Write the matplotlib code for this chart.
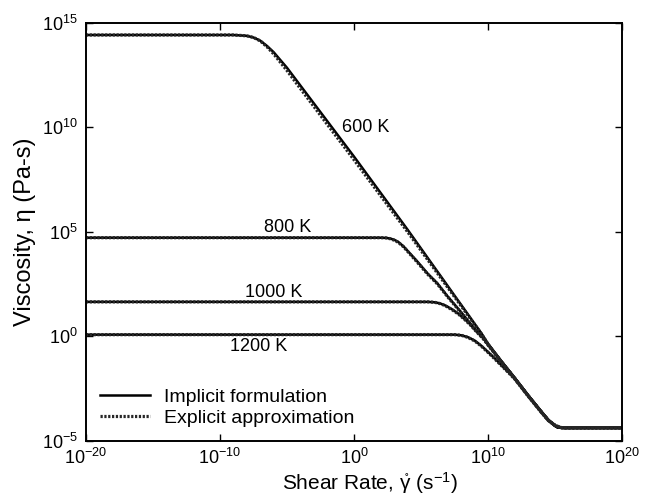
import numpy as np
import matplotlib
matplotlib.use('Agg')
import matplotlib.pyplot as plt

plt.rcParams['font.family'] = ['Liberation Sans', 'DejaVu Sans']
plt.rcParams['mathtext.default'] = 'regular'

### values, as log10(shear rate) and log10(viscosity)
# implicit formulation
lx_600 = [-20, -9, -8, -7.5, -7, -6.5, -6, -5, -4, -2, 0, 2, 4, 6, 8, 9.5, 10, 11, 12, 13, 14, 14.5, 15, 15.2, 15.5, 20]
ly_600 = [14.42, 14.42, 14.38, 14.3, 14.15, 13.9, 13.6, 12.85, 12.0, 10.3, 8.6, 6.85, 5.1, 3.3, 1.5, 0.15, -0.35, -1.2, -2.0, -2.83, -3.62, -4.0, -4.28, -4.36, -4.38, -4.38]

lx_800 = [-20, 2, 2.4, 2.7, 3.0, 3.3, 3.7, 4.2, 4.7, 5.5, 6.2, 7, 8, 9, 9.6, 10, 11, 12, 13, 14, 14.5, 15, 15.2, 15.5, 20]
ly_800 = [4.72, 4.72, 4.71, 4.68, 4.62, 4.52, 4.3, 3.95, 3.6, 3.0, 2.55, 1.9, 1.15, 0.35, -0.05, -0.38, -1.2, -2.0, -2.83, -3.62, -4.0, -4.28, -4.36, -4.38, -4.38]

lx_1000 = [-20, 5.5, 6.0, 6.4, 6.8, 7.3, 7.8, 8.3, 8.8, 9.3, 9.7, 10, 11, 12, 13, 14, 14.5, 15, 15.2, 15.5, 20]
ly_1000 = [1.65, 1.65, 1.63, 1.58, 1.48, 1.3, 1.08, 0.8, 0.5, 0.15, -0.12, -0.4, -1.2, -2.0, -2.83, -3.62, -4.0, -4.28, -4.36, -4.38, -4.38]

lx_1200 = [-20, 7.5, 8, 8.5, 9, 9.5, 10, 10.5, 11, 11.5, 12, 13, 14, 14.5, 15, 15.2, 15.5, 20]
ly_1200 = [0.08, 0.08, 0.05, -0.04, -0.2, -0.45, -0.75, -1.05, -1.38, -1.7, -2.03, -2.85, -3.64, -4.02, -4.29, -4.36, -4.38, -4.38]

# explicit approximation
ex_600 = [-20, -9, -8, -7.5, -7, -6.5, -6, -5, -4, -2, 0, 2, 4, 6, 8, 9.5, 10, 11, 12, 13, 14, 14.5, 15, 15.4, 15.7, 20]
ey_600 = [14.42, 14.42, 14.38, 14.3, 14.14, 13.86, 13.52, 12.72, 11.86, 10.15, 8.45, 6.72, 5.0, 3.22, 1.45, 0.12, -0.38, -1.22, -2.02, -2.85, -3.64, -4.02, -4.26, -4.36, -4.38, -4.38]

ex_800 = [-20, 2, 2.4, 2.7, 3.0, 3.3, 3.7, 4.2, 4.7, 5.5, 6.2, 7, 8, 9, 9.6, 10, 11, 12, 13, 14, 14.5, 15, 15.4, 15.7, 20]
ey_800 = [4.72, 4.72, 4.71, 4.67, 4.6, 4.5, 4.28, 3.92, 3.56, 2.97, 2.52, 1.88, 1.12, 0.32, -0.08, -0.4, -1.22, -2.02, -2.85, -3.64, -4.02, -4.26, -4.36, -4.38, -4.38]

ex_1000 = [-20, 5.5, 6.0, 6.4, 6.8, 7.3, 7.8, 8.3, 8.8, 9.3, 9.7, 10, 11, 12, 13, 14, 14.5, 15, 15.4, 15.7, 20]
ey_1000 = [1.65, 1.65, 1.63, 1.57, 1.47, 1.28, 1.06, 0.78, 0.47, 0.12, -0.15, -0.42, -1.22, -2.02, -2.85, -3.64, -4.02, -4.26, -4.36, -4.38, -4.38]

ex_1200 = [-20, 7.5, 8, 8.5, 9, 9.5, 10, 10.5, 11, 11.5, 12, 13, 14, 14.5, 15, 15.4, 15.7, 20]
ey_1200 = [0.08, 0.08, 0.05, -0.05, -0.22, -0.47, -0.77, -1.08, -1.4, -1.72, -2.05, -2.87, -3.66, -4.03, -4.27, -4.36, -4.38, -4.38]

temps = ['600 K', '800 K', '1000 K', '1200 K']
label_x = [-0.9, -4.96, -6.0, -7.13]
label_y = [9.99, 5.21, 2.11, -0.47]

implicit = [(lx_600, ly_600), (lx_800, ly_800), (lx_1000, ly_1000), (lx_1200, ly_1200)]
explicit = [(ex_600, ey_600), (ex_800, ey_800), (ex_1000, ey_1000), (ex_1200, ey_1200)]

fig = plt.figure(figsize=(6.46, 4.97), dpi=100)
ax = fig.add_axes([0.133, 0.113, 0.830, 0.841])

for i, (lx, ly) in enumerate(implicit):
    ax.plot(10.0**np.array(lx), 10.0**np.array(ly), 'k-', lw=1.8,
            label='Implicit formulation' if i == 0 else None)
for i, (lx, ly) in enumerate(explicit):
    ax.plot(10.0**np.array(lx), 10.0**np.array(ly), color='0.15', lw=2.3,
            ls=(0, (0.7, 0.5)), label='Explicit approximation' if i == 0 else None)

for t, x, y in zip(temps, label_x, label_y):
    ax.text(10.0**x, 10.0**y, t, fontsize=13, ha='left' if t == '600 K' else 'center', va='center')

ax.set_xscale('log')
ax.set_yscale('log')
ax.set_xlim(1e-20, 1e20)
ax.set_ylim(1e-5, 1e15)
ax.set_xticks([1e-20, 1e-10, 1e0, 1e10, 1e20])
ax.set_yticks([1e-5, 1e0, 1e5, 1e10, 1e15])
ax.minorticks_off()
ax.tick_params(direction='in', top=True, right=True, length=5, width=1, labelsize=13)
ax.tick_params(axis='x', pad=5)
ax.tick_params(axis='y', pad=6)
for s in ax.spines.values():
    s.set_linewidth(1.4)

ax.set_xlabel(r'Shear Rate, $\mathring{\gamma}$ (s$^{-1}$)', fontsize=15, va='baseline')
ax.xaxis.set_label_coords(0.53, -0.116)
ax.set_ylabel('Viscosity, η (Pa-s)', fontsize=17, labelpad=4)

ax.legend(loc='lower left', bbox_to_anchor=(0.0, 0.0), frameon=False, fontsize=14,
          handlelength=2.6, handletextpad=0.7, labelspacing=0.2, borderaxespad=0.3)

plt.savefig('out.png', dpi=100)
